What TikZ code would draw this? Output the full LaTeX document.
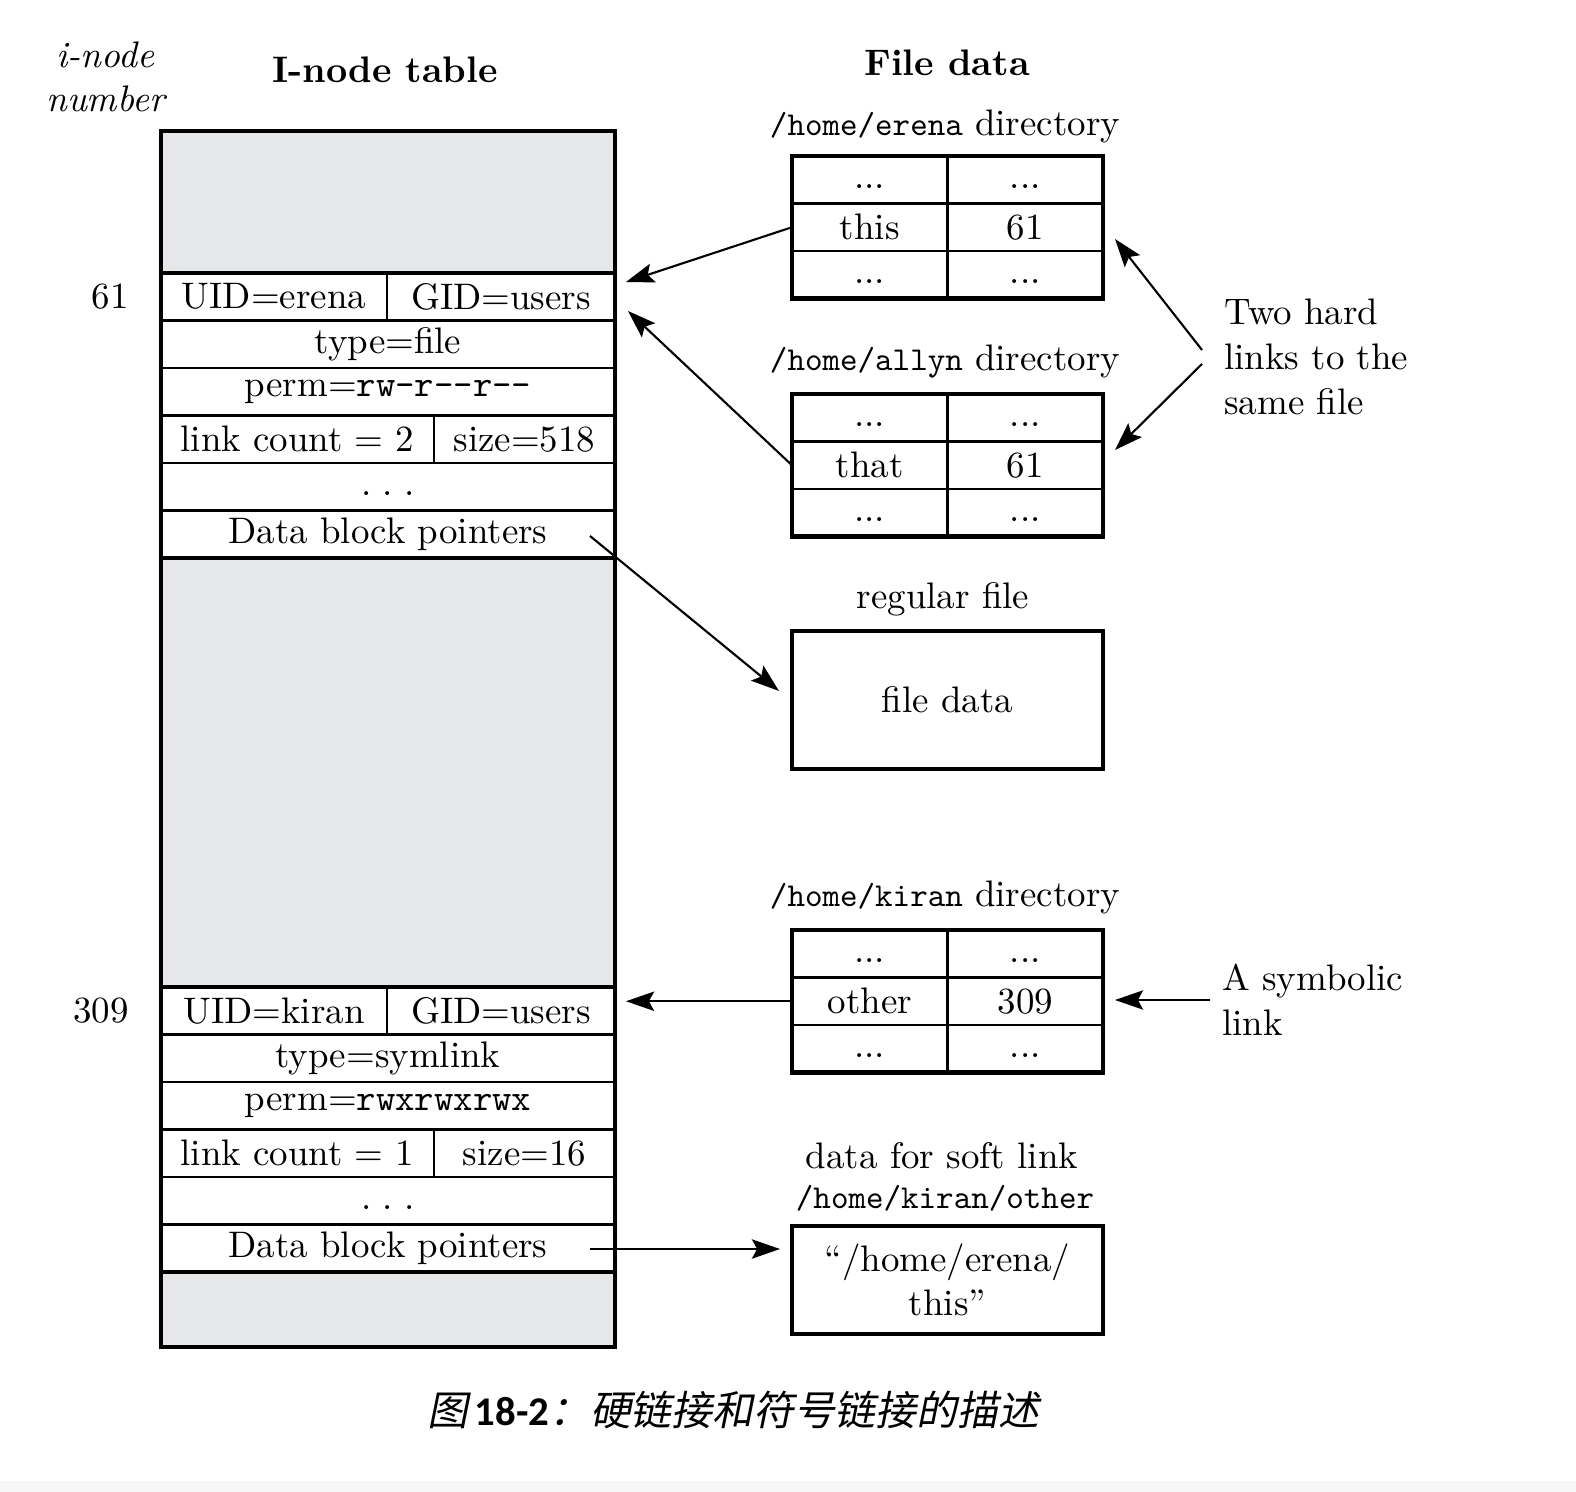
\documentclass[tikz,border=0pt]{standalone}
\usepackage{fontspec}
\usetikzlibrary{arrows.meta,positioning}
\newfontfamily\cjk[FakeSlant=0.2]{Noto Sans CJK SC}
\newfontfamily\capnum{Carlito}
\definecolor{inodegrey}{RGB}{230,231,232}
\newcommand{\fpath}[1]{{\fontsize{9.5}{12}\selectfont\ttfamily #1}}
\newcommand{\tdots}{\strut...}
\newcommand{\sdots}{\strut.\hspace{0.3em}.\hspace{0.3em}.}

\tikzset{
  cell/.style={
    draw,
    line width=0.6pt,
    inner sep=0pt,
    outer sep=0pt,
    minimum height=0.475cm,
    font=\fontsize{10.5}{12}\selectfont
  },
  thickframe/.style={
    draw,
    line width=1.4pt
  },
  ptr/.style={
    line width=0.6pt,
    -{Stealth[length=8pt,width=5.5pt,inset=1.5pt]}
  },
}
\tikzset{
  heading/.style={
    font=\fontsize{10.5}{12}\selectfont\bfseries
  },
  dirlabel/.style={
    font=\fontsize{10.5}{12}\selectfont,
    inner sep=2pt
  },
  numlbl/.style={
    font=\fontsize{10.5}{12}\selectfont
  },
  note/.style={
    anchor=west,
    align=left,
    font=\fontsize{10.5}{12.9}\selectfont
  }
}

\begin{document}
\begin{tikzpicture}[x=0.01cm,y=-0.01cm]
    \useasboundingbox (0,0) rectangle (1576,1492);
    \fill[gray!6] (0,1481) rectangle (1576,1492);
    \def\rh{47.5}
    % grey parts of the i-node table
    \fill[inodegrey] (161,131) rectangle (615,273);
    \fill[inodegrey] (161,558) rectangle (615,987);
    \fill[inodegrey] (161,1272) rectangle (615,1347);

    % i-node 61
    \node[cell, minimum width=2.26cm] (uid61) at (274,296.75) {UID=erena};
    \node[cell, minimum width=2.28cm] (gid61) at (501,296.75) {GID=users};
    \node[cell, minimum width=4.54cm] (type61) at (388,344.25) {type=file};
    \node[cell, minimum width=4.54cm] (perm61) at (388,391.75) {perm=\texttt{rw-r{-}{-}r{-}{-}}};
    \node[cell, minimum width=2.73cm] (link61) at (297.5,439.25) {link count = 2};
    \node[cell, minimum width=1.81cm] (size61) at (524.5,439.25) {size=518};
    \node[cell, minimum width=4.54cm] (dots61) at (388,486.75) {\sdots};
    \node[cell, minimum width=4.54cm] (dbp61) at (388,534.25) {Data block pointers};

    % i-node 309
    \node[cell, minimum width=2.26cm] (uid309) at (274,1010.75) {UID=kiran};
    \node[cell, minimum width=2.28cm] (gid309) at (501,1010.75) {GID=users};
    \node[cell, minimum width=4.54cm] (type309) at (388,1058.25) {type=symlink};
    \node[cell, minimum width=4.54cm] (perm309) at (388,1105.75) {perm=\texttt{rwxrwxrwx}};
    \node[cell, minimum width=2.73cm] (link309) at (297.5,1153.25) {link count = 1};
    \node[cell, minimum width=1.81cm] (size309) at (524.5,1153.25) {size=16};
    \node[cell, minimum width=4.54cm] (dots309) at (388,1200.75) {\sdots};
    \node[cell, minimum width=4.54cm] (dbp309) at (388,1248.25) {Data block pointers};

    \foreach \yy in {273,558,987,1272}{
        \draw[thickframe] (161,\yy) -- (615,\yy);
    }
    \draw[thickframe] (161,131) rectangle (615,1347);

    \node[numlbl, left=0.2cm of uid61] (n61) {61};
    \node[numlbl, left=0.2cm of uid309] (n309) {309};
    \node[font=\fontsize{10.5}{12.4}\selectfont\itshape, align=center] (numhead) at (105.5,77) {i-node\\number};
    \node[heading] (tabhead) at (385,70) {I-node table};
    \node[heading] (datahead) at (947,63) {File data};

    % directories
    \foreach \dir/\ty/\fname/\inum in {erena/156/this/61, allyn/394/that/61, kiran/930/other/309}{
        \foreach \row/\ca/\cb in {1/\tdots/\tdots, 2/\fname/\inum, 3/\tdots/\tdots}{
            \node[cell, minimum width=1.555cm] (\dir-\row a) at (869.75,\ty+\rh*\row-\rh/2) {\ca};
            \node[cell, minimum width=1.555cm] (\dir-\row b) at (1025.25,\ty+\rh*\row-\rh/2) {\cb};
        }
        \draw[thickframe, line width=1.3pt] (\dir-1a.north west) rectangle (\dir-3b.south east);
    }
    \node[dirlabel] (erenalbl) at (945,126) {\fpath{/home/erena} directory};
    \node[dirlabel] (allynlbl) at (945,362) {\fpath{/home/allyn} directory};
    \node[dirlabel] (kiranlbl) at (945,897) {\fpath{/home/kiran} directory};

    \node[dirlabel] (reglbl) at (943,599) {regular file};
    \node[cell, thickframe, line width=1.3pt, minimum width=3.11cm, minimum height=1.38cm] (regfile) at (947.5,700) {file data};

    \node[dirlabel] (softlbl) at (942,1156) {data for soft link};
    \node[dirlabel] (softpath) at (945,1198) {\fpath{/home/kiran/other}};
    \node[cell, thickframe, line width=1.3pt, minimum width=3.11cm, minimum height=1.08cm, align=center,
          font=\fontsize{10.5}{12.6}\selectfont] (softdata) at (947.5,1280) {“/home/erena/\\this”};

    \node[note] (hardnote) at (1212,357) {Two hard\\links to the\\same file};
    \node[note] (symnote) at (1210,1000) {A symbolic\\link};

    % arrows
    \coordinate (in61a) at (626,282);
    \coordinate (in61b) at (628,311);
    \coordinate (in309) at (626,1001.25);
    \coordinate (hardsrca) at (1202,350);
    \coordinate (hardsrcb) at (1202,364);
    \coordinate (erenain) at (1115,239);
    \coordinate (allynin) at (1115,450);
    \coordinate (kiranin) at (1115,1000);
    \coordinate (dbp61src) at (590,536);
    \coordinate (dbp309src) at (590,1249);
    \coordinate (regin) at (779,691);
    \coordinate (softin) at (780,1249);
    \draw[ptr] (erena-2a.west) -- (in61a);
    \draw[ptr] (allyn-2a.west) -- (in61b);
    \draw[ptr] (kiran-2a.west) -- (in309);
    \draw[ptr] (hardsrca) -- (erenain);
    \draw[ptr] (hardsrcb) -- (allynin);
    \draw[ptr] (symnote.west) -- (kiranin);
    \draw[ptr] (dbp61src) -- (regin);
    \draw[ptr] (dbp309src) -- (softin);

    \node[font=\fontsize{11.6}{14}\selectfont] (figcap) at (733,1410)
        {{\cjk 图}\,{\capnum\bfseries 18-2}{\cjk ：硬链接和符号链接的描述}};
\end{tikzpicture}
\end{document}
